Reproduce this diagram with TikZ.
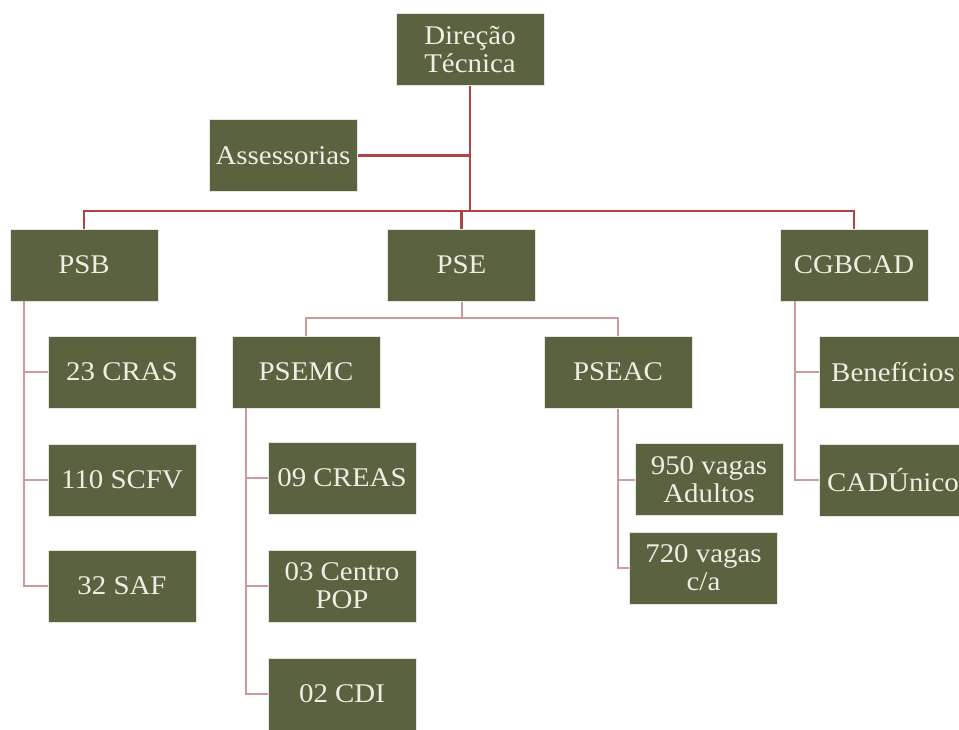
\documentclass[tikz,border=0pt]{standalone}
\usepackage{fontspec}
\setmainfont[FakeStretch=1.07]{Liberation Serif}
\definecolor{boxfill}{HTML}{5A6240}
\definecolor{boxtext}{HTML}{F0EEE4}
\definecolor{mainline}{HTML}{B04444}
\definecolor{subline}{HTML}{CC9A9C}
\definecolor{boxedge}{HTML}{E6E6E2}
\begin{document}
\begin{tikzpicture}[x=1pt,y=-1pt,
  orgbox/.style={draw=boxedge,line width=1pt,fill=boxfill,text=boxtext,
    minimum width=148pt,minimum height=72pt,inner sep=2pt,align=center,
    font=\fontsize{27}{28}\selectfont},
  mainconn/.style={draw=mainline,line width=2.2pt},
  subconn/.style={draw=subline,line width=2pt}]
\useasboundingbox (0,0) rectangle (959,729);
% nodes
\node[orgbox] (dir) at (470,49.5) {Direção\\Técnica};
\node[orgbox] (ass) at (283,155.5) {Assessorias};
\node[orgbox] (psb) at (84,265) {PSB};
\node[orgbox] (pse) at (461.5,265) {PSE};
\node[orgbox] (cgb) at (854,265) {CGBCAD};
\node[orgbox] (cras) at (122,372) {23 CRAS};
\node[orgbox] (scfv) at (122,480) {110 SCFV};
\node[orgbox] (saf) at (122,586) {32 SAF};
\node[orgbox] (psemc) at (306,372) {PSEMC};
\node[orgbox] (pseac) at (618,372) {PSEAC};
\node[orgbox] (creas) at (342,478) {09 CREAS};
\node[orgbox] (pop) at (342,586) {03 Centro\\POP};
\node[orgbox] (cdi) at (342,694) {02 CDI};
\node[orgbox] (v950) at (709,479.5) {950 vagas\\Adultos};
\node[orgbox] (v720) at (703.5,568) {720 vagas\\c/a};
\node[orgbox] (ben) at (893,372) {Benefícios};
\node[orgbox] (cad) at (893,480) {CADÚnico};
% coordinates
\coordinate (hub) at (470,211);
\coordinate (pseh) at (462,318);
\coordinate (psbv) at (24,301);
\coordinate (mcv) at (246,408);
\coordinate (cgv) at (795,301);
% main connectors
\draw[mainconn] (dir.south) -- (hub);
\draw[mainconn] (ass.east) -- (ass.east -| hub);
\draw[mainconn] (psb.north) -- (psb.north |- hub) -- (cgb.north |- hub) -- (cgb.north);
\draw[mainconn] (pse.north) -- (pse.north |- hub);
% PSE sub
\draw[subconn] (pse.south) -- (pse.south |- pseh);
\draw[subconn] (psemc.north) -- (psemc.north |- pseh) -- (pseac.north |- pseh) -- (pseac.north);
% PSB children
\draw[subconn] (psbv) |- (saf.west);
\draw[subconn] (psbv |- cras.west) -- (cras.west);
\draw[subconn] (psbv |- scfv.west) -- (scfv.west);
% PSEMC children
\draw[subconn] (mcv) |- (cdi.west);
\draw[subconn] (mcv |- creas.west) -- (creas.west);
\draw[subconn] (mcv |- pop.west) -- (pop.west);
% PSEAC children
\draw[subconn] (pseac.south) |- (v720.west);
\draw[subconn] (pseac.south |- v950.west) -- (v950.west);
% CGBCAD children
\draw[subconn] (cgv) |- (cad.west);
\draw[subconn] (cgv |- ben.west) -- (ben.west);
\end{tikzpicture}
\end{document}
